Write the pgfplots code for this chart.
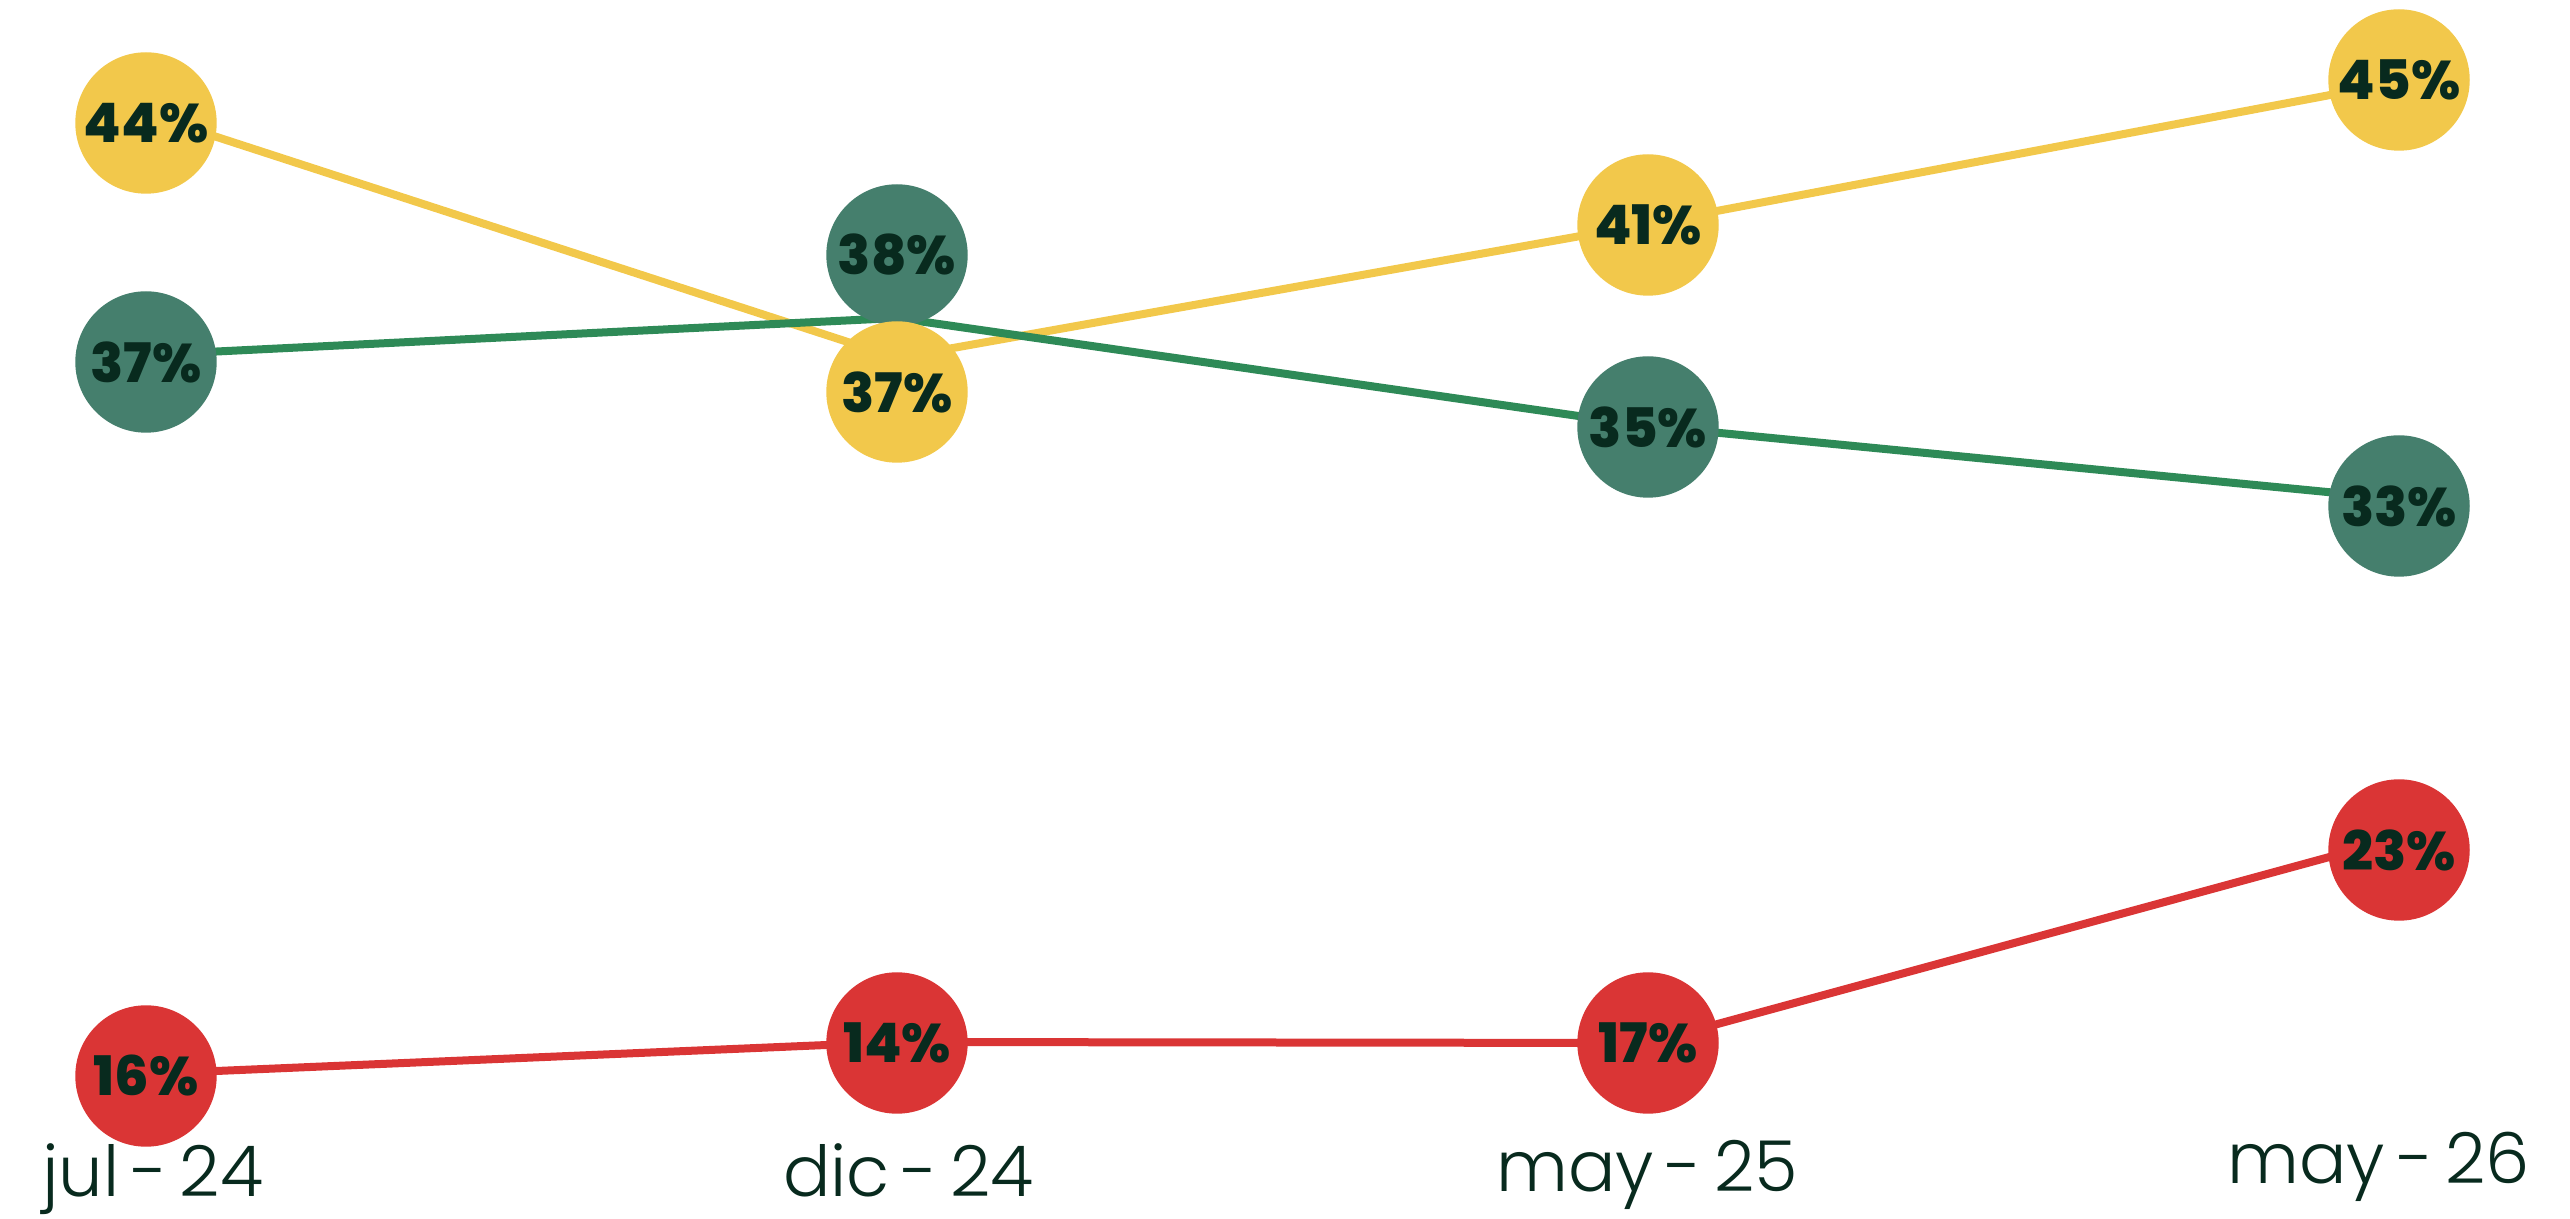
\documentclass[border=0pt]{standalone}
\usepackage{pgfplots}
\pgfplotsset{compat=1.18}
\usepackage{pgfplotstable}
\usepackage{fontspec}
\setmainfont{Poppins}
\newfontfamily\lightfont{Poppins Light}
\newfontfamily\xboldfont{Poppins ExtraBold}
\definecolor{cyel}{HTML}{F2C84B}
\definecolor{cgrc}{HTML}{457F6D}
\definecolor{cgrl}{HTML}{2E8A57}
\definecolor{cred}{HTML}{DA3535}
\definecolor{ctxt}{HTML}{082A1E}
\newcommand\sep{\kern0.17em-\kern0.17em}
% y = vertical position of the element in the chart (as drawn), v = value shown
\pgfplotstableread{
x y
0 1105
1 861
2 995
3 1137
}\yelline
\pgfplotstableread{
x y
0 864
1 901
2 793
3 720
}\grnline
\pgfplotstableread{
x y
0 145
1 177
2 176
3 381
}\redline
\pgfplotstableread{
x y v
0 1096 44
1 827 37
2 994 41
3 1139 45
}\yelpts
\pgfplotstableread{
x y v
0 857 37
1 964 38
2 792 35
3 713 33
}\grnpts
\pgfplotstableread{
x y v
0 143 16
1 176 14
2 176 17
3 369 23
}\redpts
\begin{document}
\begin{tikzpicture}
\useasboundingbox (0,0) rectangle (257mm,121.9mm);
\begin{axis}[at={(0,0)}, anchor=south west, scale only axis,
  width=257mm, height=121.9mm,
  xmin=-0.1944, xmax=3.2277, ymin=0, ymax=1219,
  axis line style={draw=none}, ytick=\empty,
  xtick={0.009,1.015,1.999,2.973},
  xticklabels={jul\sep24, dic\sep24, \raisebox{0.5mm}{may\sep25}, \raisebox{1.3mm}{may\sep26}},
  major tick length=0pt,
  xticklabel style={anchor=base, yshift=2.2mm, inner sep=0pt, font=\lightfont\fontsize{20}{20}\selectfont, text=ctxt},
  clip=false,
  /pgf/number format/assume math mode=true,
  every node near coord/.append style={anchor=center, font=\xboldfont\fontsize{15.5}{15.5}\selectfont, text=ctxt},
]
\addplot[no markers, line width=0.8mm, cyel] table {\yelline};
\addplot[no markers, line width=0.8mm, cgrl] table {\grnline};
\addplot[no markers, line width=0.8mm, cred] table {\redline};
\addplot[only marks, mark=*, mark size=7mm, color=cgrc,
  point meta=explicit, nodes near coords={\pgfmathprintnumber{\pgfplotspointmeta}\%}]
  table[meta=v] {\grnpts};
\addplot[only marks, mark=*, mark size=7mm, color=cyel,
  point meta=explicit, nodes near coords={\pgfmathprintnumber{\pgfplotspointmeta}\%}]
  table[meta=v] {\yelpts};
\addplot[only marks, mark=*, mark size=7mm, color=cred,
  point meta=explicit, nodes near coords={\pgfmathprintnumber{\pgfplotspointmeta}\%}]
  table[meta=v] {\redpts};
\end{axis}
\end{tikzpicture}
\end{document}
